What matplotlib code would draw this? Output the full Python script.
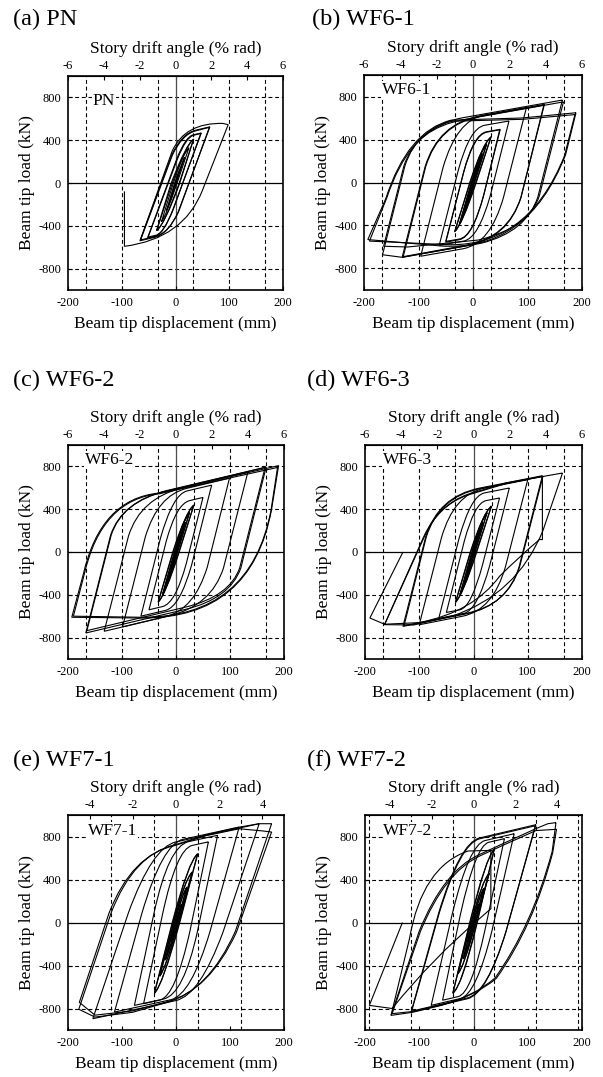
import matplotlib
matplotlib.use('Agg')
import matplotlib.pyplot as plt
from matplotlib.path import Path
from matplotlib.patches import PathPatch

plt.rcParams['font.family'] = ['Liberation Serif', 'DejaVu Serif']
plt.rcParams['axes.unicode_minus'] = False

W, H = 603, 1077

# each loop: start point, then (x, y) = line to, (cx, cy, x, y) = quadratic curve to
pn_loops = [
    [(8, 120), (0.5, 0), (-5, -85, -8, -125), (-8, -125), (-0.5, 0), (5, 80, 8, 120)],
    [(17, 240), (1.5, 0), (-12, -215, -17, -260), (-17, -260), (-1.5, 0), (12, 195, 17, 240)],
    [(25, 330), (3, 0), (-18, -310, -26, -360), (-26, -360), (-4, 0), (15, 285, 25, 330)],
    [(34, 411), (7, 0), (-22, -400, -35, -445), (-35, -445), (-6, 0), (21, 370, 34, 411)],
    [(33, 405), (8, 0), (-21, -400, -35, -440), (-35, -440), (-8, 0), (20, 365, 33, 405)],
    [(48, 468), (-5, -250), (-23, -480, -37, -496), (-52, -514), (3, 234), (19, 434, 33, 450), (48, 468)],
    [(47, 462), (-4, -245), (-22, -472, -36, -488), (-51, -505), (4, 230), (20, 428, 33, 445), (47, 462)],
    [(64, 525), (5, -270), (-13, -476, -40, -509), (-66, -540), (-7, 262), (11, 461, 38, 494), (64, 525)],
    [(63, 520), (6, -265), (-12, -470, -39, -502), (-65, -532), (-6, 258), (12, 455, 38, 488), (63, 520)],
]
pn_extra = [
    [(-66, -540), (-6, 300), (18, 565, 88, 557), (98, 545), (50, -70), (15, -520, -95, -592), (-95, -78)],
]

wf61_loops = [
    [(8, 140), (0.5, 0), (-5, -95, -8, -150), (-8, -150), (-0.5, 0), (5, 90, 8, 140)],
    [(17, 270), (1, 0), (-12, -220, -17, -290), (-17, -290), (-1, 0), (12, 205, 17, 270)],
    [(17, 265), (1.5, 0), (-11, -215, -17, -285), (-17, -285), (-1.5, 0), (11, 200, 17, 265)],
    [(25, 360), (2.5, 0), (-18, -330, -25, -390), (-25, -390), (-2.5, 0), (15, 305, 25, 360)],
    [(25, 355), (3, 0), (-17, -325, -25, -385), (-25, -385), (-3, 0), (14, 300, 25, 355)],
    [(33, 425), (5, 0), (-21, -400, -34, -460), (-34, -460), (-5, 0), (18, 370, 33, 425)],
    [(33, 420), (6, 0), (-20, -395, -33, -455), (-33, -455), (-6, 0), (18, 365, 33, 420)],
    [(50, 495), (20, -111), (-1, -511, -25, -532), (-50, -555), (-17, 99), (1, 451, 25, 472), (50, 495)],
    [(49, 490), (20, -110), (0, -504, -25, -526), (-50, -548), (-17, 98), (2, 446, 25, 468), (49, 490)],
    [(66, 572), (32, -117), (10, -520, -17, -545), (-62, -585), (-27, 114), (-6, 507, 21, 532), (66, 572)],
    [(98, 696), (56, -137), (32, -570, -18, -616), (-96, -686), (-55, 139), (-30, 580, 20, 626), (98, 696)],
    [(131, 727), (88, -139), (65, -520, -13, -590), (-130, -696), (-88, 145), (-64, 551, 14, 621), (131, 727)],
    [(130, 720), (88, -138), (64, -515, -13, -584), (-128, -690), (-87, 144), (-63, 546, 14, 615), (130, 720)],
    [(164, 767), (119, -134), (98, -460, 15, -565), (-130, -696), (-166, -672), (-125, 153),
     (-102, 528, -17, 604), (164, 767)],
    [(166, 750), (122, -119), (104, -420, 10, -535), (-120, -600), (-164, -593), (-127, 150),
     (-105, 506, -15, 587), (166, 750)],
]
wf61_extra = [
    [(189, 649), (170, 260), (100, -650, -60, -590), (-193, -531), (-160, -150), (-120, 480, -40, 580),
     (90, 600), (189, 649)],
    [(187, 632), (168, 250), (98, -640, -62, -575), (-190, -545), (-158, -140), (-118, 470, -38, 570),
     (92, 588), (187, 632)],
]

wf62_loops = [
    [(8, 150), (0.5, 0), (-5, -100, -8, -160), (-8, -160), (-0.5, 0), (5, 95, 8, 150)],
    [(17, 280), (1, 0), (-12, -230, -17, -300), (-17, -300), (-1, 0), (12, 215, 17, 280)],
    [(17, 275), (1.5, 0), (-11, -225, -17, -295), (-17, -295), (-1.5, 0), (11, 210, 17, 275)],
    [(25, 370), (2.5, 0), (-18, -340, -25, -400), (-25, -400), (-2.5, 0), (15, 315, 25, 370)],
    [(25, 365), (3, 0), (-17, -335, -25, -395), (-25, -395), (-3, 0), (14, 310, 25, 365)],
    [(33, 440), (5, 0), (-21, -415, -33, -470), (-33, -470), (-5, 0), (19, 385, 33, 440)],
    [(33, 435), (6, 0), (-20, -410, -33, -465), (-33, -465), (-6, 0), (18, 380, 33, 435)],
    [(50, 510), (19, -108), (-1, -481, -25, -510), (-50, -540), (-18, 102), (1, 451, 25, 480), (50, 510)],
    [(66, 625), (29, -120), (7, -513, -19, -545), (-65, -600), (-29, 125), (-6, 538, 20, 570), (66, 625)],
    [(99, 690), (58, -140), (34, -540, -20, -605), (-99, -700), (-57, 138), (-34, 530, 20, 595), (99, 690)],
    [(133, 745), (88, -148), (66, -502, -13, -597), (-133, -741), (-88, 149), (-66, 506, 13, 601), (133, 745)],
    [(167, 794), (120, -151), (100, -436, 17, -537), (-167, -757), (-121, 159), (-100, 473, -17, 574),
     (167, 794)],
    [(165, 790), (118, -147), (100, -417, 16, -517), (-165, -735), (-120, 158), (-100, 472, -16, 572),
     (165, 790)],
]
wf62_extra = [
    [(190, 807), (177, 400), (140, -620, -62, -617), (-193, -610), (-172, -215), (-140, 500, -31, 551),
     (62, 660), (190, 807)],
    [(188, 790), (176, 390), (138, -615, -64, -610), (-190, -600), (-170, -210), (-138, 495, -30, 545),
     (64, 652), (188, 790)],
]

wf63_loops = [
    [(8, 150), (0.5, 0), (-5, -100, -8, -160), (-8, -160), (-0.5, 0), (5, 95, 8, 150)],
    [(17, 280), (1, 0), (-12, -230, -17, -300), (-17, -300), (-1, 0), (12, 215, 17, 280)],
    [(17, 275), (1.5, 0), (-11, -225, -17, -295), (-17, -295), (-1.5, 0), (11, 210, 17, 275)],
    [(25, 370), (2.5, 0), (-18, -340, -25, -400), (-25, -400), (-2.5, 0), (15, 315, 25, 370)],
    [(25, 365), (3, 0), (-17, -335, -25, -395), (-25, -395), (-3, 0), (14, 310, 25, 365)],
    [(33, 430), (5, 0), (-21, -415, -33, -470), (-33, -470), (-5, 0), (19, 378, 33, 430)],
    [(33, 425), (6, 0), (-20, -410, -33, -465), (-33, -465), (-6, 0), (18, 373, 33, 425)],
    [(48, 505), (17, -113), (-4, -519, -25, -540), (-50, -565), (-17, 101), (2, 459, 23, 480), (48, 505)],
    [(66, 598), (30, -124), (7, -549, -18, -574), (-64, -620), (-27, 120), (-5, 527, 20, 552), (66, 598)],
    [(100, 676), (59, -136), (36, -544, -20, -600), (-100, -680), (-59, 135), (-36, 540, 20, 596), (100, 676)],
    [(127, 713), (84, -139), (62, -502, -14, -579), (-130, -695), (-88, 143), (-65, 520, 11, 597), (127, 713)],
    [(128, 707), (85, -138), (63, -498, -14, -574), (-128, -688), (-87, 141), (-64, 515, 12, 592), (128, 707)],
    [(164, 738), (128, 200), (80, -400, -40, -600), (-110, -682), (-164, -679), (-90, 150),
     (-65, 440, -10, 540), (60, 645), (164, 738)],
]
wf63_extra = [
    [(-164, -679), (-92, 140), (-66, 430, -12, 530), (60, 640), (127, 707), (127, 115), (122, 118),
     (85, -40, 48, -227), (0, -560, -100, -660), (-164, -675), (-191, -617), (-130, 0)],
]

wf71_loops = [
    [(10, 170), (1, 0), (-6, -120, -10, -180), (-10, -180), (-1, 0), (6, 112, 10, 170)],
    [(20, 330), (2, 0), (-14, -290, -20, -350), (-20, -350), (-2, 0), (12, 270, 20, 330)],
    [(20, 325), (2.5, 0), (-13, -285, -20, -345), (-20, -345), (-2.5, 0), (11, 265, 20, 325)],
    [(30, 470), (4, 0), (-20, -440, -30, -500), (-30, -500), (-4, 0), (17, 410, 30, 470)],
    [(30, 465), (4.5, 0), (-19, -435, -30, -495), (-30, -495), (-4.5, 0), (16, 405, 30, 465)],
    [(40, 640), (6, 0), (-26, -600, -40, -660), (-40, -660), (-6, 0), (24, 580, 40, 640)],
    [(40, 632), (7, 0), (-25, -594, -40, -652), (-40, -652), (-7, 0), (23, 574, 40, 632)],
    [(60, 750), (26, -76), (-1, -690, -30, -722), (-60, -755), (-25, 75), (1, 685, 30, 717), (60, 750)],
    [(77, 811), (40, -77), (14, -672, -23, -712), (-77, -771), (-41, 81), (-14, 711, 23, 752), (77, 811)],
    [(117, 888), (63, -83), (28, -677, -10, -719), (-114, -833), (-63, 89), (-25, 732, 13, 774), (117, 888)],
    [(154, 919), (87, -90), (44, -677, 0, -726), (-154, -895), (-88, 92), (-44, 701, 0, 750), (154, 919)],
]
wf71_extra = [
    [(177, 919), (110, -81), (60, -640, -18, -745), (-80, -835), (-150, -880), (-180, -807), (-120, 92),
     (-78, 639, -1.5, 723), (56, 815), (117, 887), (154, 919), (177, 919)],
    [(177, 842), (112, -90), (62, -630, -15, -735), (-80, -822), (-150, -862), (-179, -743), (-124, 88),
     (-82, 630, -3, 715), (56, 808), (117, 872), (160, 852), (177, 842)],
]

wf72_loops = [
    [(10, 170), (1, 0), (-6, -120, -10, -180), (-10, -180), (-1, 0), (6, 112, 10, 170)],
    [(19, 320), (2, 0), (-13, -280, -19, -340), (-19, -340), (-2, 0), (12, 262, 19, 320)],
    [(19, 315), (2.5, 0), (-12, -275, -19, -335), (-19, -335), (-2.5, 0), (11, 258, 19, 315)],
    [(29, 460), (4, 0), (-19, -430, -29, -480), (-29, -480), (-4, 0), (17, 400, 29, 460)],
    [(29, 455), (4.5, 0), (-18, -425, -29, -475), (-29, -475), (-4.5, 0), (16, 395, 29, 455)],
    [(38, 680), (6, 0), (-22, -600, -38, -660), (-38, -660), (-6, 0), (24, 620, 38, 680)],
    [(38, 672), (7, 0), (-21, -594, -38, -652), (-38, -652), (-7, 0), (23, 612, 38, 672)],
    [(57, 780), (21, -72), (-4, -660, -28, -689), (-57, -723), (-24, 78), (4, 717, 28, 746), (57, 780)],
    [(75, 826), (34, -77), (5, -671, -24, -707), (-78, -771), (-39, 83), (-8, 726, 21, 762), (75, 826)],
    [(115, 910), (60, -83), (25, -665, -11, -709), (-115, -833), (-64, 91), (-25, 742, 11, 786), (115, 910)],
    [(114, 900), (60, -82), (25, -658, -11, -702), (-114, -825), (-63, 90), (-24, 735, 11, 778), (114, 900)],
    [(152, 929), (145, 660), (108, -30, 40, -515), (0, -690, -60, -772), (-112, -835), (-152, -864),
     (-100, -80), (-55, 480, 10, 630), (54, 733), (115, 873), (137, 919), (152, 929)],
    [(153, 867), (146, 650), (110, -40, 42, -520), (2, -690, -58, -765), (-112, -828), (-150, -848),
     (-98, -85), (-53, 470, 12, 620), (56, 722), (115, 855), (153, 867)],
]
wf72_extra = [
    [(-152, -864), (-118, -150), (-95, 520, -10, 665), (32, 671), (32, 128), (12, 40),
     (-75, -330, -150, -800), (-192, -771), (-131, 0)],
]

x_ticks = [-200, -100, 0, 100, 200]
y_ticks = [-800, -400, 0, 400, 800]
grid_loads = [-800, -400, 400, 800]
grid_drifts = [1, 3, 5]

# (rect px: left, right, top, bottom), title, title pos px, name, name pos (mm, kN), data, mm per % rad, top ticks
panels = [
    ((68, 283, 76, 290), '(a) PN', (13, 25), 'PN', (-154, 764), pn_loops, pn_extra, 100 / 3,
     [-6, -4, -2, 0, 2, 4, 6]),
    ((364, 582, 75, 290), '(b) WF6-1', (312, 25), 'WF6-1', (-167, 860), wf61_loops, wf61_extra, 100 / 3,
     [-6, -4, -2, 0, 2, 4, 6]),
    ((68, 284, 445, 659), '(c) WF6-2', (13, 386), 'WF6-2', (-168, 857), wf62_loops, wf62_extra, 100 / 3,
     [-6, -4, -2, 0, 2, 4, 6]),
    ((365, 582, 445, 659), '(d) WF6-3', (307, 386), 'WF6-3', (-167, 857), wf63_loops, wf63_extra, 100 / 3,
     [-6, -4, -2, 0, 2, 4, 6]),
    ((68, 284, 815, 1030), '(e) WF7-1', (13, 766), 'WF7-1', (-163, 851), wf71_loops, wf71_extra, 40,
     [-4, -2, 0, 2, 4]),
    ((365, 582, 815, 1030), '(f) WF7-2', (307, 766), 'WF7-2', (-166, 850), wf72_loops, wf72_extra, 38.5,
     [-4, -2, 0, 2, 4]),
]


def make_path(pts):
    verts = [pts[0]]
    codes = [Path.MOVETO]
    for p in pts[1:]:
        if len(p) == 2:
            verts.append(p)
            codes.append(Path.LINETO)
        else:
            verts += [(p[0], p[1]), (p[2], p[3])]
            codes += [Path.CURVE3, Path.CURVE3]
    return Path(verts, codes)


fig = plt.figure(figsize=(W / 100, H / 100), dpi=100)

for rect, title, tpos, name, npos, loops, extra, s, top_ticks in panels:
    l, r, t, b = rect
    ax = fig.add_axes([l / W, 1 - b / H, (r - l) / W, (b - t) / H])
    ax.set_xlim(-200, 200)
    ax.set_ylim(-1000, 1000)

    dash = (0, (3.5, 2.5))
    for k in grid_drifts:
        if k * s < 199:
            ax.axvline(k * s, color='k', lw=0.8, ls=dash, zorder=1)
            ax.axvline(-k * s, color='k', lw=0.8, ls=dash, zorder=1)
    for yv in grid_loads:
        ax.axhline(yv, color='k', lw=0.8, ls=dash, zorder=1)
    ax.axvline(0, color='0.3', lw=0.9, zorder=1)
    ax.axhline(0, color='k', lw=0.9, zorder=1)

    for lp in loops + extra:
        ax.add_patch(PathPatch(make_path(lp), fill=False, ec='k', lw=0.8, zorder=3))

    ax.text(npos[0], npos[1], name, fontsize=12.5, ha='left', va='center', zorder=4,
            bbox=dict(fc='white', ec='none', pad=0.6))

    ax.set_xticks(x_ticks)
    ax.set_yticks(y_ticks)
    ax.tick_params(direction='in', length=3, width=0.8, labelsize=9, pad=5)
    for sp in ax.spines.values():
        sp.set_linewidth(1.2)
    ax.set_xlabel('Beam tip displacement (mm)', fontsize=12.5, labelpad=5)
    ax.set_ylabel('Beam tip load (kN)', fontsize=12.5, labelpad=2)

    sec = ax.secondary_xaxis('top', functions=(lambda v, s=s: v / s, lambda v, s=s: v * s))
    sec.set_xticks(top_ticks)
    sec.tick_params(direction='in', length=3, width=0.8, labelsize=9, pad=3)
    sec.set_xlabel('Story drift angle (% rad)', fontsize=12.5, labelpad=5)

    fig.text(tpos[0] / W, 1 - tpos[1] / H, title, fontsize=17.5, ha='left', va='baseline')

fig.savefig('out.png', dpi=100)
